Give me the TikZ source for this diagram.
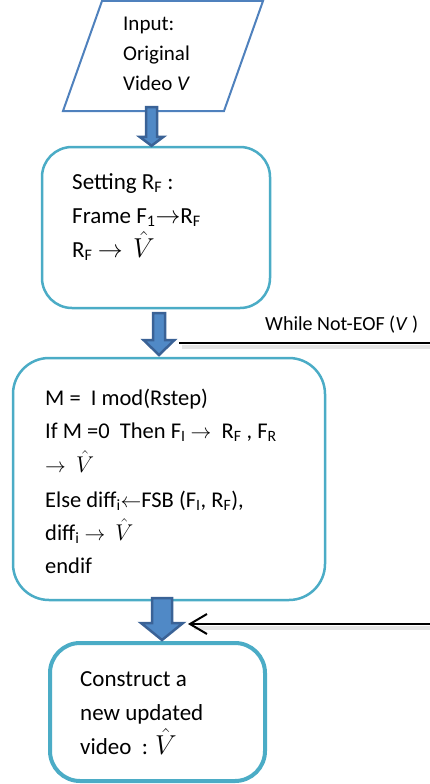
\documentclass[tikz,border=0pt]{standalone}
\usepackage{fontspec}
\setmainfont{Carlito}
\usetikzlibrary{calc,arrows.meta}
\definecolor{aqua}{HTML}{4BACC6}
\definecolor{pblue}{HTML}{4F81BD}
\definecolor{adark}{HTML}{3A6296}
\definecolor{afill}{HTML}{5089C6}
\newcommand\mysub[1]{\textsubscript{#1}}
\newcommand\vhat{\smash{\scalebox{1.1}{$\hat{V}$}}}
\newcommand\blockarr[6]{\draw[#6] ($(#1)+(-#3,0)$) -- ($(#1)+(#3,0)$) -- ($(#2)+(#3,-#5)$) -- ($(#2)+(#4,-#5)$) -- (#2) -- ($(#2)+(-#4,-#5)$) -- ($(#2)+(-#3,-#5)$) -- cycle;}
\begin{document}
\begin{tikzpicture}[x=1pt,y=-1pt,
  txt/.style={anchor=base west, inner sep=0pt, font=\fontsize{21}{25}\selectfont},
  btxt/.style={anchor=base west, inner sep=0pt, font=\fontsize{23}{27}\selectfont},
  mtxt/.style={anchor=base west, inner sep=0pt, font=\fontsize{22.5}{27}\selectfont},
  lab/.style={anchor=base west, inner sep=0pt, font=\fontsize{20}{24}\selectfont},
  box/.style={draw=aqua, line width=2.5pt, fill=white, rounded corners=30pt, inner sep=0pt},
  blockarrow/.style={draw=adark, fill=afill, line width=2.5pt, line join=miter},
  flow/.style={draw=black, line width=2pt},
  flowshadow/.style={draw=black!10, line width=4pt}]
\useasboundingbox (0,0) rectangle (430,784);
\clip (0,0) rectangle (430,784);

% input parallelogram
\draw[pblue, line width=2pt, fill=white] (102,1) -- (263,1) -- (224,111) -- (63,111) -- cycle;
\coordinate (inb) at (151.5,111);
\node[txt] (i1) at (123,31) {Input:};
\node[txt] (i2) at (123,61) {Original};
\node[txt] (i3) at (123,90) {Video \textit{V}};

% boxes
\node[box, minimum width=228, minimum height=161] (b2) at (156,227.5) {};
\node[box, minimum width=312, minimum height=242, rounded corners=36pt] (b3) at (169,479) {};
\node[box, minimum width=215, minimum height=138, line width=4pt] (b4) at (157.5,712) {};

% texts box 2
\node[btxt] (s1) at (72,189) {Setting R\mysub{F} :};
\node[btxt] (s2) at (72,223) {Frame F\mysub{1}$\rightarrow$R\mysub{F}};
\node[btxt] (s3) at (72,257) {R\mysub{F} $\rightarrow$ \ \vhat};

% texts box 3
\node[mtxt] (m1) at (45,405) {M = \ I mod(Rstep)};
\node[mtxt] (m2) at (45,438) {If M =0 \ Then F\mysub{I} $\rightarrow$ \ R\mysub{F} , F\mysub{R}};
\node[mtxt] (m3) at (45,472) {$\rightarrow$ \ \vhat};
\node[mtxt] (m4) at (45,507) {Else diff\mysub{i}$\leftarrow$FSB (F\mysub{I}, R\mysub{F}),};
\node[mtxt] (m5) at (45,540) {diff\mysub{i} $\rightarrow$ \ \vhat};
\node[mtxt] (m6) at (45,573) {endif};

% texts box 4
\node[btxt] (c1) at (80,686) {Construct a};
\node[btxt] (c2) at (80,720) {new updated};
\node[btxt] (c3) at (80,754) {video \ : \vhat};

% block arrows
\coordinate (a1s) at (151.5,107);
\coordinate (a1t) at (b2.north -| a1s);
\blockarr{a1s}{a1t}{5.5}{12}{9}{blockarrow}
\coordinate (a2s) at (159,313);
\coordinate (a2t) at (159,355);
\blockarr{a2s}{a2t}{6}{15.5}{15}{blockarrow}
\coordinate (a3s) at (162,598);
\coordinate (a3t) at (162,640);
\blockarr{a3s}{a3t}{10}{21}{17}{blockarrow}

% loop lines
\coordinate (w1) at (179,343);
\coordinate (w2) at (440,343);
\draw[flowshadow] ($(w1)+(3,4)$) -- ($(w2)+(3,4)$);
\draw[flow] (w1) -- (w2);
\node[lab] (wl) at (265,330) {While Not-EOF (\textit{V} )};

\coordinate (r1) at (440,624);
\coordinate (r2) at (188,624);
\draw[flowshadow] ($(r1)+(3,4)$) -- ($(r2)+(6,4)$);
\draw[flow, -{Straight Barb[length=17pt,width=20pt,line width=2pt]}] (r1) -- (r2);
\end{tikzpicture}
\end{document}
